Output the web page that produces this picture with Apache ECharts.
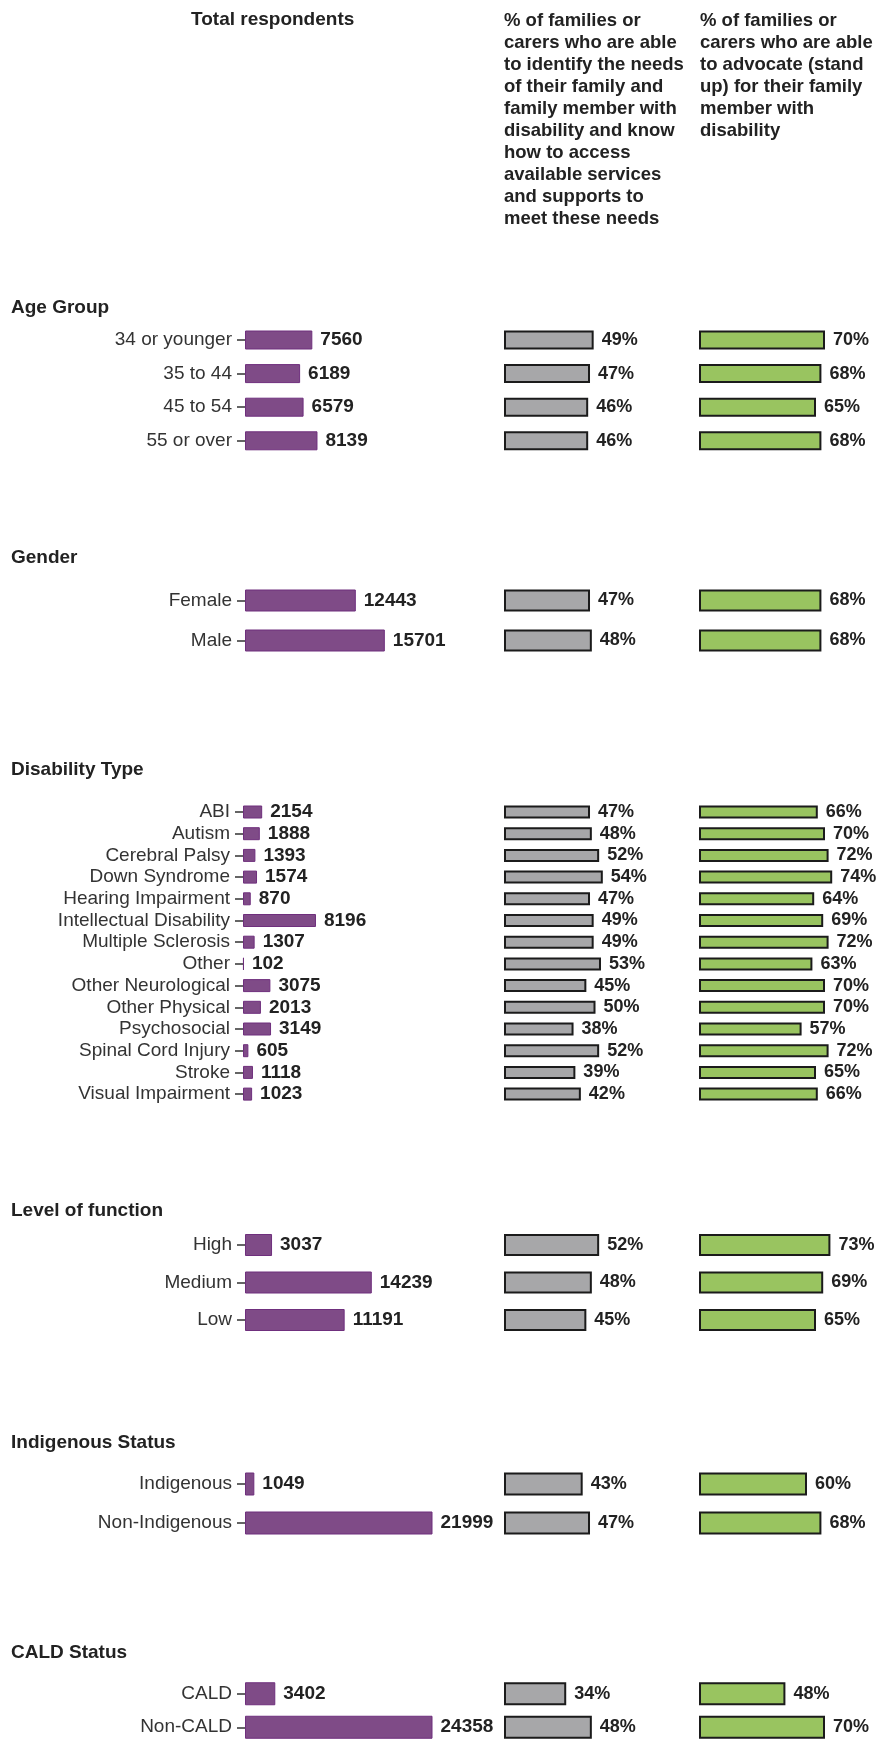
<!DOCTYPE html>
<html>
<head>
<meta charset="utf-8">
<script src="https://cdn.jsdelivr.net/npm/echarts@6/dist/echarts.min.js"></script>
<style>
  html, body { margin: 0; padding: 0; background: #fff; }
  #chart { width: 879px; height: 1744px; }
</style>
</head>
<body>
<div id="chart"></div>
<script>
// data
const sectionNames = ['Age Group', 'Gender', 'Disability Type', 'Level of function', 'Indigenous Status', 'CALD Status']

const ageGroups = ['34 or younger', '35 to 44', '45 to 54', '55 or over']
const ageTotals = [7560, 6189, 6579, 8139]
const ageIdentify = [49, 47, 46, 46]
const ageAdvocate = [70, 68, 65, 68]

const genders = ['Female', 'Male']
const genderTotals = [12443, 15701]
const genderIdentify = [47, 48]
const genderAdvocate = [68, 68]

const disabilityTypes = ['ABI', 'Autism', 'Cerebral Palsy', 'Down Syndrome', 'Hearing Impairment',
  'Intellectual Disability', 'Multiple Sclerosis', 'Other', 'Other Neurological', 'Other Physical',
  'Psychosocial', 'Spinal Cord Injury', 'Stroke', 'Visual Impairment']
const disabilityTotals = [2154, 1888, 1393, 1574, 870, 8196, 1307, 102, 3075, 2013, 3149, 605, 1118, 1023]
const disabilityIdentify = [47, 48, 52, 54, 47, 49, 49, 53, 45, 50, 38, 52, 39, 42]
const disabilityAdvocate = [66, 70, 72, 74, 64, 69, 72, 63, 70, 70, 57, 72, 65, 66]

const functionLevels = ['High', 'Medium', 'Low']
const functionTotals = [3037, 14239, 11191]
const functionIdentify = [52, 48, 45]
const functionAdvocate = [73, 69, 65]

const indigenousGroups = ['Indigenous', 'Non-Indigenous']
const indigenousTotals = [1049, 21999]
const indigenousIdentify = [43, 47]
const indigenousAdvocate = [60, 68]

const caldGroups = ['CALD', 'Non-CALD']
const caldTotals = [3402, 24358]
const caldIdentify = [34, 48]
const caldAdvocate = [48, 70]

const headTotal = 'Total respondents'
const headIdentify = '% of families or\ncarers who are able\nto identify the needs\nof their family and\nfamily member with\ndisability and know\nhow to access\navailable services\nand supports to\nmeet these needs'
const headAdvocate = '% of families or\ncarers who are able\nto advocate (stand\nup) for their family\nmember with\ndisability'

const sections = [
  { cats: ageGroups, total: ageTotals, identify: ageIdentify, advocate: ageAdvocate },
  { cats: genders, total: genderTotals, identify: genderIdentify, advocate: genderAdvocate },
  { cats: disabilityTypes, total: disabilityTotals, identify: disabilityIdentify, advocate: disabilityAdvocate },
  { cats: functionLevels, total: functionTotals, identify: functionIdentify, advocate: functionAdvocate },
  { cats: indigenousGroups, total: indigenousTotals, identify: indigenousIdentify, advocate: indigenousAdvocate },
  { cats: caldGroups, total: caldTotals, identify: caldIdentify, advocate: caldAdvocate },
]

// layout: heading y, first row centre, row step, bar thickness, purple axis x
const layout = [
  { head: 309, first: 340, step: 33.6, bar: 19, left: 245 },
  { head: 559, first: 600.5, step: 40, bar: 22, left: 245 },
  { head: 771, first: 812, step: 21.7, bar: 13, left: 243 },
  { head: 1212, first: 1245, step: 37.5, bar: 22, left: 245 },
  { head: 1444, first: 1484, step: 39, bar: 23, left: 245 },
  { head: 1654, first: 1696, step: 38, bar: 23, left: 245 },
]

const FONT = '"Liberation Sans", Arial, sans-serif'
const TEXT = '#222'

const grids = []
const xAxes = []
const yAxes = []
const series = []
const graphics = []

const columns = [
  { key: 'total', left: null, width: 187, max: 21000, color: '#7f4b87', border: '#6f2f7d', bw: 1, fs: 19, fmt: (v) => v },
  { key: 'identify', left: 504, width: 183, max: 100, color: '#a7a7a9', border: '#1b1b1b', bw: 2, fs: 18, fmt: (v) => v + '%' },
  { key: 'advocate', left: 699, width: 183, max: 100, color: '#99c460', border: '#1b1b1b', bw: 2, fs: 18, fmt: (v) => v + '%' },
]

sections.forEach((sec, si) => {
  const L = layout[si]
  graphics.push({
    type: 'text', left: 11, top: L.head - 11,
    style: { text: sectionNames[si], font: 'bold 19px ' + FONT, fill: TEXT },
  })
  columns.forEach((col, ci) => {
    const idx = grids.length
    grids.push({
      left: col.left === null ? L.left : col.left,
      top: L.first - L.step / 2,
      width: col.width,
      height: L.step * sec.cats.length,
    })
    xAxes.push({
      gridIndex: idx, type: 'value', min: 0, max: col.max, show: false,
    })
    yAxes.push({
      gridIndex: idx, type: 'category', data: sec.cats, inverse: true,
      axisLine: { show: false },
      axisTick: { show: ci === 0, interval: 0, alignWithLabel: true, length: 8, lineStyle: { color: '#333', width: 1.5 } },
      axisLabel: { show: ci === 0, interval: 0, margin: 13, fontFamily: FONT, fontSize: 19, color: '#333' },
      splitLine: { show: false },
    })
    series.push({
      type: 'bar', xAxisIndex: idx, yAxisIndex: idx,
      data: sec[col.key], barWidth: L.bar, clip: true,
      itemStyle: { color: col.color, borderColor: col.border, borderWidth: col.bw },
      label: {
        show: true, position: 'right', distance: 8,
        formatter: (p) => col.fmt(p.value),
        fontFamily: FONT, fontSize: col.fs, fontWeight: 'bold', color: TEXT,
      },
      animation: false,
    })
  })
})

graphics.push({
  type: 'text', left: 191, top: 10,
  style: { text: headTotal, font: 'bold 19px ' + FONT, fill: TEXT },
})
graphics.push({
  type: 'text', left: 504, top: 10,
  style: { text: headIdentify, font: 'bold 18.5px ' + FONT, fill: TEXT, lineHeight: 22 },
})
graphics.push({
  type: 'text', left: 700, top: 10,
  style: { text: headAdvocate, font: 'bold 18.5px ' + FONT, fill: TEXT, lineHeight: 22 },
})

const chart = echarts.init(document.getElementById('chart'), null, { renderer: 'canvas' })
chart.setOption({
  animation: false,
  grid: grids,
  xAxis: xAxes,
  yAxis: yAxes,
  series: series,
  graphic: graphics,
})
</script>
</body>
</html>
